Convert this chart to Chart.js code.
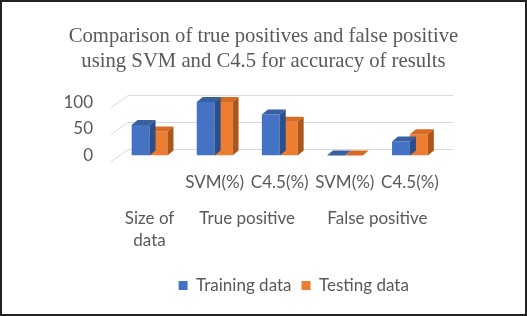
<!DOCTYPE html>
<html>
<head>
<meta charset="utf-8">
<script src="https://cdn.jsdelivr.net/npm/chart.js@4.4.1/dist/chart.umd.min.js"></script>
<style>
  body { margin: 0; background: #fff; }
  #caja { position: relative; width: 527px; height: 316px; }
  #marco { position: absolute; left: 0; top: 0; width: 527px; height: 316px; box-sizing: border-box; border: 2px solid #222; pointer-events: none; }
</style>
</head>
<body>
<div id="caja">
  <canvas id="grafica" width="527" height="316"></canvas>
  <div id="marco"></div>
</div>
<script>
// datos
let categorias = ['', 'SVM(%)', 'C4.5(%)', 'SVM(%)', 'C4.5(%)'];
let grupos = [['Size of', 'data'], 'True positive', 'False positive'];
let posGrupos = [0, 1.5, 3.5];
let entrenamiento = [57, 100, 77, 0, 26];
let prueba = [45, 100, 63, 0, 40];
let marcasY = [0, 50, 100];

let gris = '#595959';

// etiquetas de grupo en medias posiciones (eje de 11 lugares, sin offset)
let etiquetasGrupo = [];
for (let i = 0; i < categorias.length * 2 + 1; i++) etiquetasGrupo.push('');
posGrupos.forEach(function (p, i) {
  etiquetasGrupo[Math.round((p + 0.5) * 2)] = grupos[i];
});

// lineas de fondo y caras de arriba y lado para que parezca 3D
const caras3D = {
  id: 'caras3D',
  afterLayout(chart) {
    // la leyenda va un poco a la derecha como en la imagen
    chart.legend.left += 14;
    chart.legend.right += 14;
  },
  beforeDatasetsDraw(chart) {
    const ctx = chart.ctx;
    const area = chart.chartArea;
    const y = chart.scales.y;
    ctx.save();
    ctx.strokeStyle = '#d9d9d9';
    ctx.lineWidth = 1;
    marcasY.forEach(function (v) {
      let py = Math.round(y.getPixelForValue(v)) + 0.5;
      ctx.beginPath();
      ctx.moveTo(area.left - 6, py + 5);
      ctx.lineTo(area.left + 11, py - 7);
      ctx.lineTo(area.right + 11, py - 7);
      ctx.stroke();
    });
    ctx.restore();
  },
  afterDatasetDraw(chart, args) {
    const ctx = chart.ctx;
    const ds = chart.data.datasets[args.index];
    const dx = 6, dy = 5;
    ctx.save();
    args.meta.data.forEach(function (bar) {
      let izq = bar.x - bar.width / 2;
      let der = bar.x + bar.width / 2;
      let arriba = bar.y;
      let abajo = bar.base;
      // arriba
      ctx.fillStyle = ds.colorArriba;
      ctx.beginPath();
      ctx.moveTo(izq, arriba);
      ctx.lineTo(izq + dx, arriba - dy);
      ctx.lineTo(der + dx, arriba - dy);
      ctx.lineTo(der, arriba);
      ctx.closePath();
      ctx.fill();
      // lado
      ctx.fillStyle = ds.colorLado;
      ctx.beginPath();
      ctx.moveTo(der, arriba);
      ctx.lineTo(der + dx, arriba - dy);
      ctx.lineTo(der + dx, abajo - dy);
      ctx.lineTo(der, abajo);
      ctx.closePath();
      ctx.fill();
    });
    ctx.restore();
  }
};

new Chart(document.getElementById('grafica'), {
  type: 'bar',
  data: {
    labels: categorias,
    datasets: [
      { label: 'Training data', data: entrenamiento, backgroundColor: '#4472C4', colorArriba: '#36609f', colorLado: '#2c4f8c' },
      { label: 'Testing data', data: prueba, backgroundColor: '#ED7D31', colorArriba: '#d66b24', colorLado: '#ad5617' }
    ]
  },
  options: {
    responsive: false,
    devicePixelRatio: 1,
    animation: false,
    layout: { padding: { left: 0, right: 0, top: 0, bottom: 12 } },
    datasets: { bar: { categoryPercentage: 0.55, barPercentage: 1 } },
    plugins: {
      title: {
        display: true,
        text: ['Comparison of true positives and false positive', 'using SVM and C4.5 for accuracy of results'],
        color: gris,
        font: { family: 'Liberation Serif', size: 20.7, weight: 'normal', lineHeight: 1.21 },
        padding: { top: 24, bottom: 28 }
      },
      legend: {
        position: 'bottom',
        fullSize: false,
        labels: {
          color: gris,
          font: { family: 'Lato', size: 17 },
          boxWidth: 9,
          boxHeight: 9,
          padding: 10
        }
      },
      tooltip: { enabled: false }
    },
    scales: {
      y: {
        min: 0,
        max: 100,
        afterFit(scale) { scale.width = 117; },
        afterBuildTicks(scale) { scale.ticks = marcasY.map(v => ({ value: v })); },
        grid: { display: false },
        border: { display: false },
        ticks: { color: gris, font: { family: 'Lato', size: 17 }, padding: 16 }
      },
      y2: {
        position: 'right',
        afterFit(scale) { scale.width = 84.5; },
        grid: { display: false },
        border: { display: false },
        ticks: { display: false }
      },
      x: {
        afterFit(scale) { scale.height = 45; },
        grid: { display: false, drawTicks: false },
        border: { display: false },
        ticks: { color: gris, font: { family: 'Lato', size: 17 }, padding: 17, maxRotation: 0, autoSkip: false }
      },
      x2: {
        type: 'category',
        labels: etiquetasGrupo,
        offset: false,
        position: 'bottom',
        afterFit(scale) { scale.height = 66.5; },
        grid: { display: false, drawTicks: false },
        border: { display: false },
        ticks: {
          color: gris,
          font: { family: 'Lato', size: 17, lineHeight: 1.3 },
          padding: 7,
          maxRotation: 0,
          autoSkip: false
        }
      }
    }
  },
  plugins: [caras3D]
});
</script>
</body>
</html>
